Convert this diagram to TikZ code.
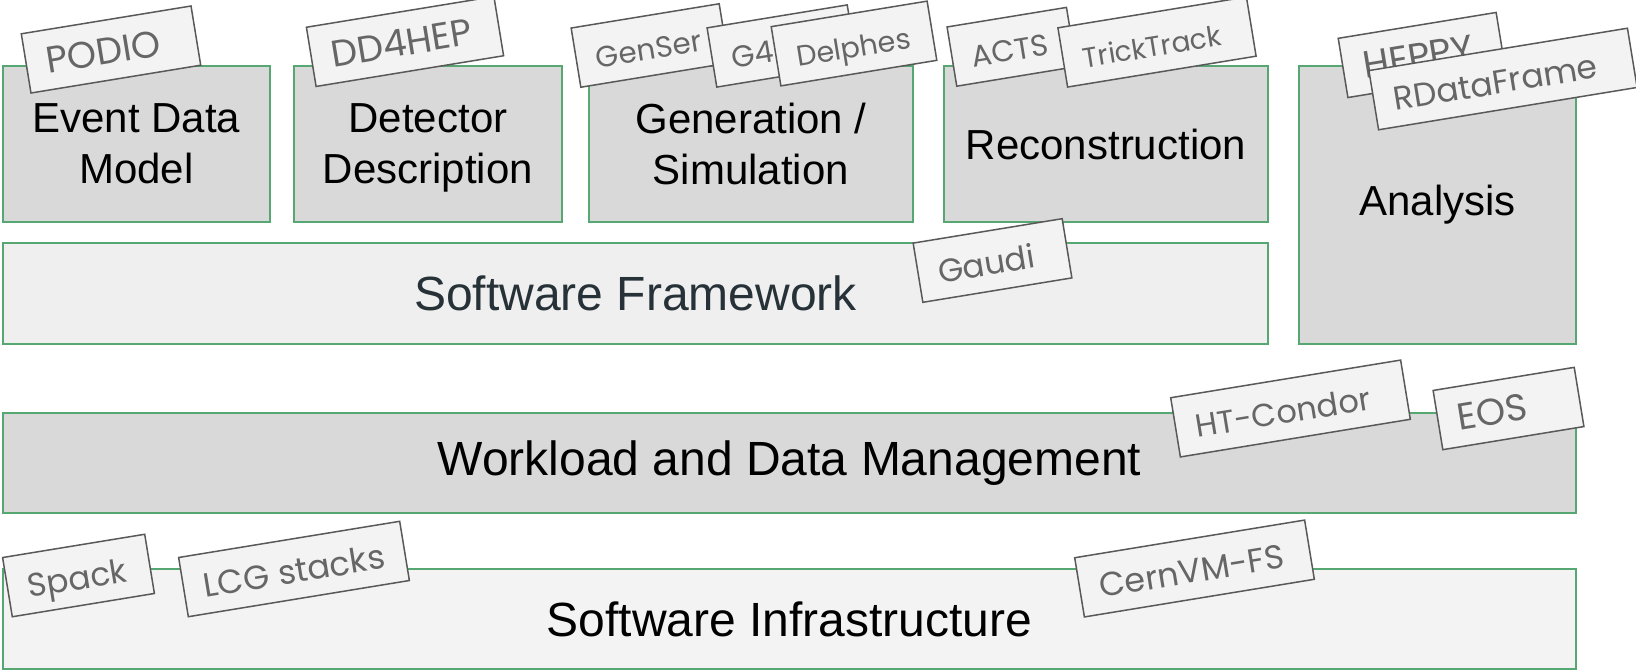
\documentclass[tikz,border=0pt]{standalone}
\usepackage{fontspec}
\setmainfont{Liberation Sans}
\newfontfamily\chipfont{Poppins}
\definecolor{edgegreen}{HTML}{57A773}
\definecolor{darkfill}{HTML}{D9D9D9}
\definecolor{lightfill}{HTML}{EFEFEF}
\definecolor{chipfill}{HTML}{F3F3F3}
\definecolor{chipline}{HTML}{595959}
\definecolor{chiptext}{HTML}{666666}
\definecolor{fwtext}{HTML}{263238}
\newcommand{\chipbox}[2]{\makebox[#1][l]{#2}}
\tikzset{
  mainbox/.style={draw=edgegreen, line width=1pt, inner sep=0pt, align=center, text=black},
  topfont/.style={font=\fontsize{21}{25.5}\selectfont},
  lowfont/.style={font=\fontsize{24}{28}\selectfont},
  chip/.style={draw=chipline, fill=chipfill, line width=0.75pt, rotate=9.3,
    text=chiptext, minimum height=30pt, inner ysep=0pt, inner xsep=10pt,
    text height=14pt, text depth=0pt},
  chipsize/.style={font=\chipfont\fontsize{#1}{#1}\selectfont}
}
\begin{document}
\begin{tikzpicture}[x=0.5pt,y=-0.5pt]
\useasboundingbox (0,0) rectangle (1636,670);
% main boxes
\node[mainbox, topfont, fill=darkfill, minimum width=133.5pt, minimum height=78pt] (edm) at (136.5,144) {Event Data\\Model};
\node[mainbox, topfont, fill=darkfill, minimum width=134pt, minimum height=78pt, text depth=0pt] (det) at (428,144) {Detector\\Description};
\node[mainbox, topfont, fill=darkfill, minimum width=162pt, minimum height=78pt] (gen) at (751,144) {Generation /\\Simulation};
\node[mainbox, topfont, fill=darkfill, minimum width=162pt, minimum height=78pt] (rec) at (1106,144) {Reconstruction};
\node[mainbox, topfont, fill=darkfill, minimum width=138.5pt, minimum height=139pt] (ana) at (1437.5,205) {Analysis};
\node[mainbox, lowfont, fill=lightfill, text=fwtext, minimum width=632.5pt, minimum height=50.5pt] (fw) at (635.5,293.5) {Software Framework};
\node[mainbox, lowfont, fill=darkfill, minimum width=786.5pt, minimum height=50pt] (wl) at (789.5,463) {Workload and Data Management};
\node[mainbox, lowfont, fill=chipfill, minimum width=786.5pt, minimum height=50pt] (inf) at (789.5,619) {Software Infrastructure};
% tags
\node[chip, chipsize=18.6] (podio) at (111,49.5) {\chipbox{66pt}{PODIO}};
\node[chip, chipsize=18.6] (dd4hep) at (405,41.5) {\chipbox{75pt}{DD4HEP}};
\node[chip, chipsize=14.7] (genser) at (650,45.5) {\chipbox{55pt}{GenSer}};
\node[chip, chipsize=15] (g4) at (782,46) {\chipbox{51pt}{G4}};
\node[chip, chipsize=14.3] (delphes) at (854,43.5) {\chipbox{59pt}{Delphes}};
\node[chip, chipsize=15] (acts) at (1011.6,46.8) {\chipbox{40.5pt}{ACTS}};
\node[chip, chipsize=14] (tricktrack) at (1157,42) {\chipbox{75.5pt}{TrickTrack}};
\node[chip, chipsize=19] (heppy) at (1422,55) {\chipbox{60pt}{HEPPY}};
\node[chip, chipsize=16.5] (rdf) at (1503,79) {\chipbox{111pt}{RDataFrame}};
\node[chip, chipsize=16.2] (gaudi) at (992.5,260.5) {\chipbox{55.5pt}{Gaudi}};
\node[chip, chipsize=16] (htcondor) at (1290.5,408.5) {\chipbox{96.5pt}{HT-Condor}};
\node[chip, chipsize=18.7] (eos) at (1508.5,408.5) {\chipbox{51.5pt}{EOS}};
\node[chip, chipsize=16.7] (cvmfs) at (1194.5,568.5) {\chipbox{96.5pt}{CernVM-FS}};
\node[chip, chipsize=16.4] (spack) at (78.5,575.5) {\chipbox{52pt}{Spack}};
\node[chip, chipsize=16.8] (lcg) at (294,569) {\chipbox{92pt}{LCG stacks}};
\end{tikzpicture}
\end{document}
